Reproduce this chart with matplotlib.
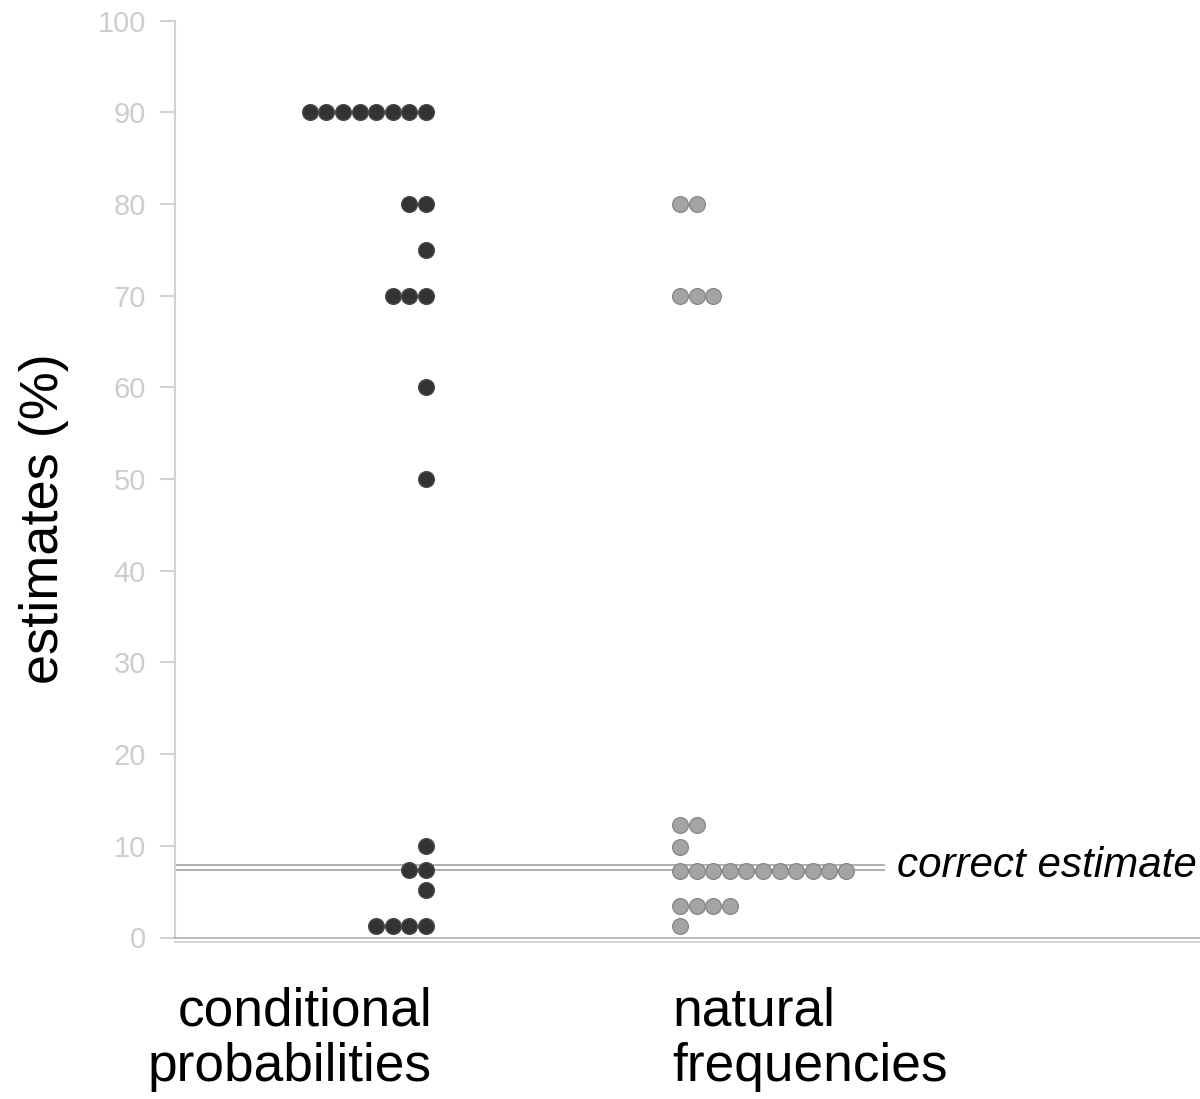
import matplotlib
matplotlib.use("Agg")
import matplotlib.pyplot as plt
import numpy as np

plt.rcParams['font.family'] = ['Liberation Sans', 'DejaVu Sans']

# Data: estimate value -> number of participants
cond_values = [90, 80, 75, 70, 60, 50, 10, 7.4, 5.2, 1.3]
cond_counts = [8, 2, 1, 3, 1, 1, 1, 2, 1, 4]
nat_values = [80, 70, 12.3, 9.9, 7.3, 3.4, 1.2]
nat_counts = [2, 3, 2, 1, 11, 4, 1]
correct_estimate = 7.6
yticks = [0, 10, 20, 30, 40, 50, 60, 70, 80, 90, 100]
categories = [["conditional", "probabilities"], ["natural", "frequencies"]]

fig = plt.figure(figsize=(12, 10.99), dpi=100)
ax = fig.add_axes([175/1200, 1-937.5/1099, 1-175/1200, (937.5-20.7)/1099])
ax.set_xlim(0, 1025)
ax.set_ylim(0, 100)

cond_anchor = 251   # rightmost dot (stacks leftwards)
nat_anchor = 505    # leftmost dot (stacks rightwards)
spacing = 16.6

# correct estimate lines (double)
x_end = 710
for dy in (0.27, -0.27):
    ax.plot([0, x_end], [correct_estimate + dy]*2, color='#a8a8a8', lw=1.3,
            solid_capstyle='butt', zorder=1, clip_on=False)
ax.text(722, 6.6, "correct estimate", fontsize=30.3, style='italic',
        va='baseline', ha='left', color='black')

for v, c in zip(cond_values, cond_counts):
    xs = cond_anchor - spacing*np.arange(c)
    ax.plot(xs, [v]*c, 'o', ms=11.3, mfc='#333333', mec='#4a4a4a', mew=1.0, zorder=3,
            clip_on=False)
for v, c in zip(nat_values, nat_counts):
    xs = nat_anchor + spacing*np.arange(c)
    ax.plot(xs, [v]*c, 'o', ms=11.3, mfc='#a4a4a4', mec='#8a8a8a', mew=1.0, zorder=3,
            clip_on=False)

for s in ['top', 'right']:
    ax.spines[s].set_visible(False)
ax.spines['left'].set_color('#d2d2d2')
ax.spines['left'].set_linewidth(1.5)
ax.spines['bottom'].set_color('#b4b4b4')
ax.spines['bottom'].set_linewidth(1.3)
ax.plot([0, 1], [-0.0045, -0.0045], transform=ax.transAxes, color='#cfcfcf', lw=1.3,
        clip_on=False)

ax.set_yticks(yticks)
ax.set_yticklabels([str(t) for t in yticks], fontsize=21, color='#cdcdcd')
ax.tick_params(axis='y', length=11, width=1.5, color='#d2d2d2', pad=10)
ax.set_xticks([])

ax.set_ylabel("estimates (%)", fontsize=39)
ax.yaxis.set_label_coords(-(175 - 69)/1025, 0.457)
ax.yaxis.label.set_va('bottom')

fs = 38.3
fig.text(432/1200, 1-1025/1099, categories[0][0], fontsize=fs, ha='right', va='baseline')
fig.text(432/1200, 1-1081/1099, categories[0][1], fontsize=fs, ha='right', va='baseline')
fig.text(672/1200, 1-1025/1099, categories[1][0], fontsize=fs, ha='left', va='baseline')
fig.text(672/1200, 1-1081/1099, categories[1][1], fontsize=fs, ha='left', va='baseline')

fig.savefig("out.png", dpi=100)
